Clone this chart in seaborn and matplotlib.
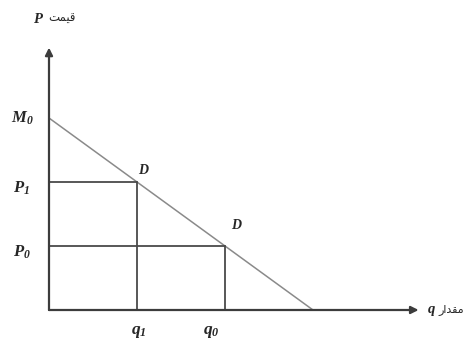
import matplotlib
matplotlib.use("Agg")
import matplotlib.pyplot as plt
import seaborn as sns

# demand line P = 3 - q, two observed points D
demand_q = [0, 3]
demand_p = [3, 0]
points_q = [1, 2]
points_p = [2, 1]
q_labels = ["q1", "q0"]
p_labels = ["P1", "P0"]

sns.set_style("white")
plt.rcParams['mathtext.fontset'] = 'custom'
plt.rcParams['mathtext.bfit'] = 'Liberation Serif:bold:italic'
plt.rcParams['mathtext.it'] = 'Liberation Serif:italic'
plt.rcParams['mathtext.rm'] = 'Liberation Serif'

fig = plt.figure(figsize=(4.66, 3.43), dpi=100)
ax = fig.add_axes([0, 0, 1, 1])
# 1 unit of q = 88 px, 1 unit of P = 64 px, origin at (49, 310)
ax.set_xlim(-49 / 88, (466 - 49) / 88)
ax.set_ylim(-33 / 64, 310 / 64)
ax.axis("off")

axis_col = "#3c3c3c"
guide_col = "#4a4a4a"
line_col = "#8a8a8a"

# axes with arrows
ax.annotate("", xy=(0, 4.1), xytext=(0, 0),
            arrowprops=dict(arrowstyle="-|>", color=axis_col, lw=1.6, mutation_scale=11,
                            shrinkA=0, shrinkB=0))
ax.annotate("", xy=(4.2, 0), xytext=(0, 0),
            arrowprops=dict(arrowstyle="-|>", color=axis_col, lw=1.6, mutation_scale=11,
                            shrinkA=0, shrinkB=0))

# demand curve
sns.lineplot(x=demand_q, y=demand_p, ax=ax, color=line_col, lw=1.1)

# guide lines
for q, p in zip(points_q, points_p):
    ax.plot([0, q], [p, p], color=guide_col, lw=1.3)
    ax.plot([q, q], [0, p], color=guide_col, lw=1.3)

# labels
ax.text(-0.3, 3, r"$\mathbfit{M_0}$", fontsize=12, ha="center", va="center")
for p, lab in zip(points_p, p_labels):
    ax.text(-0.31, p - 0.1, r"$\mathbfit{%s_%s}$" % (lab[0], lab[1]),
            fontsize=12, ha="center", va="center")
ax.text(points_q[0] + 0.02, -0.33, r"$\mathbfit{q_1}$", fontsize=12.5, ha="center", va="center")
ax.text(points_q[1] - 0.16, -0.33, r"$\mathbfit{q_0}$", fontsize=12.5, ha="center", va="center")
ax.text(points_q[0] + 0.08, points_p[0] + 0.18, r"$\mathbfit{D}$", fontsize=10,
        ha="center", va="center")
ax.text(points_q[1] + 0.13, points_p[1] + 0.33, r"$\mathbfit{D}$", fontsize=10,
        ha="center", va="center")

# axis titles (Persian, shaped forms)
ax.text(-0.12, 4.55, r"$\mathbfit{P}$", fontsize=10.5, ha="center", va="center")
ax.text(-0.01, 4.55, "ﺖﻤﻴﻗ", fontsize=8.5, ha="left", va="center", family="DejaVu Sans")
ax.text(4.35, 0.0, r"$\mathbfit{q}$", fontsize=10.5, ha="center", va="center")
ax.text(4.43, 0.0, "ﺭﺍﺪﻘﻣ", fontsize=8, ha="left", va="center", family="DejaVu Sans")

fig.savefig("out.png", dpi=100)
